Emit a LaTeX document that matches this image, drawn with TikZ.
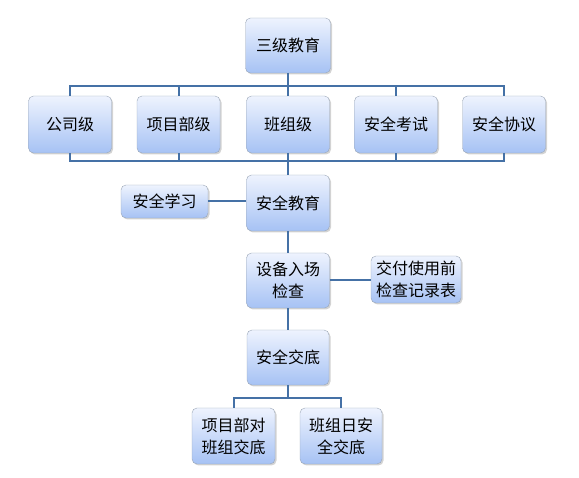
\documentclass[tikz,border=0pt]{standalone}
\usepackage{fontspec}
\newfontfamily\cjk{Noto Sans CJK SC}
\usepackage{xcolor}
\usepackage{tikz}
\usetikzlibrary{shadows}

\definecolor{boxtop}{HTML}{EEF3FE}
\definecolor{boxbottom}{HTML}{A6C2F4}
\definecolor{boxline}{HTML}{9AA6B6}
\definecolor{wire}{HTML}{4571A6}

\begin{document}
\begin{tikzpicture}[
    x=1pt, y=-1pt,
    box/.style={
        rectangle,
        rounded corners=5pt,
        draw=boxline,
        top color=boxtop,
        bottom color=boxbottom,
        drop shadow={opacity=0.35, shadow xshift=1.5pt, shadow yshift=-1.5pt},
        minimum width=83pt,
        minimum height=56pt,
        align=center,
        inner sep=2pt,
        font=\cjk\fontsize{16}{22}\selectfont
    },
    wire/.style={
        draw=wire,
        line width=2pt
    }
]

\useasboundingbox (0,0) rectangle (579,478);

\node[box, minimum width=85pt, minimum height=55pt] (top) at (288,45.5) {三级教育};

\node[box, minimum height=57pt] (gongsi) at (70,124.5) {公司级};
\node[box, minimum height=57pt] (xiangmu) at (178.5,124.5) {项目部级};
\node[box, minimum height=57pt] (banzu) at (288,124.5) {班组级};
\node[box, minimum height=57pt] (kaoshi) at (396,124.5) {安全考试};
\node[box, minimum height=57pt] (xieyi) at (504,124.5) {安全协议};

\node[box] (anquan) at (288,203) {安全教育};
\node[box, minimum width=87pt, minimum height=33pt] (xuexi) at (164.5,201.5) {安全学习};

\node[box, minimum height=55pt] (shebei) at (288,280.5) {设备入场\\检查};
\node[box, minimum width=90pt, minimum height=47pt] (jiaofu) at (416,279.5) {交付使用前\\检查记录表};

\node[box, minimum width=82pt, minimum height=55pt] (jiaodi) at (288,357.5) {安全交底};

\node[box] (duiban) at (233.5,436) {项目部对\\班组交底};
\node[box, minimum width=82pt] (riban) at (341,436) {班组日安\\全交底};

\coordinate (upbus) at (0,86);
\coordinate (lowbus) at (0,161);
\coordinate (splitbus) at (0,398);

% upper bus
\draw[wire] (top.south) -- (top.south |- upbus);
\draw[wire] (gongsi.north) -- (gongsi.north |- upbus) -| (xieyi.north);
\draw[wire] (xiangmu.north) -- (xiangmu.north |- upbus);
\draw[wire] (banzu.north) -- (banzu.north |- upbus);
\draw[wire] (kaoshi.north) -- (kaoshi.north |- upbus);

% lower bus
\draw[wire] (gongsi.south) -- (gongsi.south |- lowbus) -| (xieyi.south);
\draw[wire] (xiangmu.south) -- (xiangmu.south |- lowbus);
\draw[wire] (banzu.south) -- (anquan.north);
\draw[wire] (kaoshi.south) -- (kaoshi.south |- lowbus);

\draw[wire] (xuexi.east) -- (anquan.west |- xuexi.east);
\draw[wire] (anquan.south) -- (shebei.north);
\draw[wire] (shebei.east) -- (jiaofu.west |- shebei.east);
\draw[wire] (shebei.south) -- (jiaodi.north);

\draw[wire] (jiaodi.south) -- (jiaodi.south |- splitbus);
\draw[wire] (duiban.north) -- (duiban.north |- splitbus) -| (riban.north);

\end{tikzpicture}
\end{document}
